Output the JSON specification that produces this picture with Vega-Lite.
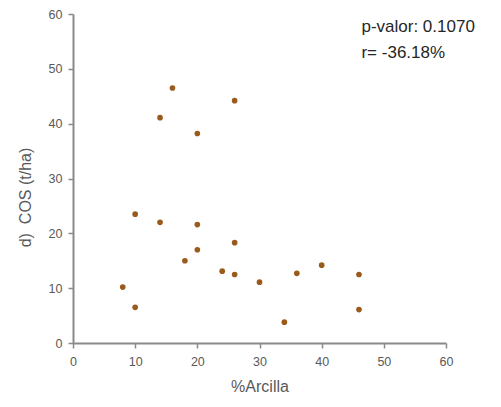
{
  "$schema": "https://vega.github.io/schema/vega-lite/v6.json",
  "width": 373,
  "height": 329,
  "autosize": "none",
  "padding": {"left": 73, "top": 14, "right": 55, "bottom": 64},
  "background": "white",
  "config": {
    "view": {"stroke": null},
    "axis": {
      "grid": false,
      "domainColor": "#8a8a8a",
      "domainWidth": 2,
      "tickColor": "#8a8a8a",
      "tickWidth": 1.5,
      "labelColor": "#595959",
      "labelFont": "Liberation Sans",
      "labelFontSize": 12.5,
      "titleColor": "#595959",
      "titleFont": "Liberation Sans",
      "titleFontSize": 16,
      "titleFontWeight": "normal"
    }
  },
  "layer": [
    {
      "data": {
        "values": [
          {"arcilla": 8, "cos": 10.2},
          {"arcilla": 10, "cos": 23.5},
          {"arcilla": 10, "cos": 6.5},
          {"arcilla": 14, "cos": 41.1},
          {"arcilla": 14, "cos": 22.0},
          {"arcilla": 16, "cos": 46.5},
          {"arcilla": 18, "cos": 15.0},
          {"arcilla": 20, "cos": 38.2},
          {"arcilla": 20, "cos": 21.6},
          {"arcilla": 20, "cos": 17.0},
          {"arcilla": 24, "cos": 13.1},
          {"arcilla": 26, "cos": 44.2},
          {"arcilla": 26, "cos": 18.3},
          {"arcilla": 26, "cos": 12.5},
          {"arcilla": 30, "cos": 11.1},
          {"arcilla": 34, "cos": 3.8},
          {"arcilla": 36, "cos": 12.7},
          {"arcilla": 40, "cos": 14.2},
          {"arcilla": 46, "cos": 12.5},
          {"arcilla": 46, "cos": 6.1}
        ]
      },
      "mark": {"type": "circle", "color": "#9a5a1c", "opacity": 1, "size": 32},
      "encoding": {
        "x": {
          "field": "arcilla", "type": "quantitative",
          "scale": {"domain": [0, 60], "nice": false, "zero": true},
          "axis": {"values": [0, 10, 20, 30, 40, 50, 60], "title": "%Arcilla", "tickSize": 5, "labelPadding": 7, "titlePadding": 11, "labelFlush": false}
        },
        "y": {
          "field": "cos", "type": "quantitative",
          "scale": {"domain": [0, 60], "nice": false},
          "axis": {"values": [0, 10, 20, 30, 40, 50, 60], "title": "d)\u00a0\u00a0COS (t/ha)", "tickSize": 5, "labelPadding": 6, "titlePadding": 15, "titleY": 183, "labelFlush": false}
        }
      }
    },
    {
      "data": {"values": [{"label": "p-valor: 0.1070", "x": 46.4, "y": 57.6}, {"label": "r= -36.18%", "x": 46.4, "y": 52.9}]},
      "mark": {"type": "text", "align": "left", "baseline": "middle", "font": "Liberation Sans", "fontSize": 17, "fill": "#262626", "fontWeight": "normal"},
      "encoding": {
        "x": {"field": "x", "type": "quantitative"},
        "y": {"field": "y", "type": "quantitative"},
        "text": {"field": "label"}
      }
    }
  ]
}
